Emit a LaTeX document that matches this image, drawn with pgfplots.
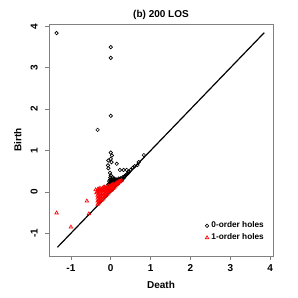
\documentclass[border=0pt]{standalone}
\usepackage{pgfplots}
\pgfplotsset{compat=1.18}
\usepackage{fontspec}
\setmainfont{Liberation Sans}
\definecolor{rred}{RGB}{255,0,0}
\begin{document}
\begin{tikzpicture}
\useasboundingbox (-36.75pt,-31.5pt) rectangle (186.75pt,192pt);
\begin{axis}[
  at={(0,0)}, anchor=south west,
  scale only axis, width=168pt, height=174pt,
  xmin=-1.55, xmax=4.07, ymin=-1.55, ymax=4.06,
  xtick={-1,0,1,2,3,4}, ytick={-1,0,1,2,3,4},
  xtick pos=bottom, ytick pos=left, tick align=outside,
  major tick length=3pt,
  axis line style={draw=black!50, line width=0.6pt},
  every tick/.style={draw=black!50, line width=0.6pt},
  /pgf/number format/assume math mode=true,
  tick label style={font=\bfseries\fontsize{7.5}{9}\selectfont},
  yticklabel style={rotate=90, anchor=south, xshift=0pt, yshift=2pt},
  label style={font=\bfseries\fontsize{7.5}{9}\selectfont},
  xlabel={Death}, ylabel={Birth},
  title={(b) 200 LOS},
  title style={font=\bfseries\fontsize{7.5}{9}\selectfont, yshift=-6.5pt},
  legend style={draw=none, fill=none, at={(0.978,0.043)}, anchor=south east,
    font=\bfseries\fontsize{6.2}{7}\selectfont, inner sep=1pt, row sep=-1pt,
    /tikz/every even column/.append style={column sep=3pt}},
  legend cell align=left,
  clip=false,
]
% 0-order holes
\addplot[only marks, mark=o, mark size=1.3pt, mark options={draw=black, line width=0.5pt}] coordinates {
(-1.36,3.84) (0.0,3.50) (0.0,3.24) (0.0,1.84) (-0.33,1.50)
(0.0,0.95) (0.03,0.88) (0.0,0.80) (-0.06,0.76) (0.02,0.72) (0.15,0.68)
(-0.07,0.64) (-0.06,0.57) (-0.02,0.46) (0.0,0.40)
(0.23,0.53) (0.32,0.53) (0.40,0.53) (0.45,0.49) (0.55,0.58) (0.67,0.65) (0.83,0.89)
(-0.05,0.05) (-0.03,0.10) (0.0,0.15) (0.02,0.20) (0.05,0.22) (0.08,0.24)
(0.10,0.27) (0.12,0.30) (0.15,0.30) (0.20,0.32) (0.25,0.33) (0.30,0.35)
(0.0,0.25) (-0.02,0.30) (0.03,0.30) (0.05,0.35) (0.08,0.32) (-0.04,0.20)
(0.35,0.38) (0.40,0.42) (0.45,0.47) (0.50,0.53) (0.60,0.62) (0.70,0.72)
(-0.08,0.12) (-0.06,0.18) (-0.01,0.35) (0.04,0.27) (0.10,0.20) (0.13,0.24)
(0.17,0.26) (0.22,0.28) (0.27,0.30) (0.06,0.16) (-0.02,0.08)
(-0.07,0.08) (-0.05,0.14) (-0.03,0.18) (-0.01,0.22) (0.01,0.18) (0.03,0.23)
(0.06,0.26) (0.09,0.29) (0.11,0.23) (0.14,0.27) (0.16,0.22) (0.19,0.29)
(0.21,0.25) (0.24,0.30) (0.26,0.27) (0.29,0.32) (0.32,0.33) (0.28,0.29)
(-0.04,0.26) (0.01,0.29) (0.07,0.20) (0.09,0.25) (0.12,0.27) (0.18,0.23)
(0.23,0.31) (0.34,0.36) (0.37,0.40) (0.42,0.44)
};
\addlegendentry{0-order holes}
% 1-order holes
\addplot[only marks, mark=triangle, mark size=1.5pt, mark options={draw=rred, line width=0.5pt}] coordinates {
(-1.36,-0.51) (-1.00,-0.85) (-0.60,-0.22) (-0.55,-0.53)
(-0.38,0.05) (-0.36,-0.02)
(-0.33,-0.30) (-0.33,-0.22) (-0.33,-0.15) (-0.33,-0.08) (-0.33,0.00) (-0.33,0.06)
(-0.30,-0.27) (-0.30,-0.20) (-0.30,-0.12) (-0.30,-0.05) (-0.30,0.02) (-0.30,0.07)
(-0.27,-0.24) (-0.27,-0.17) (-0.27,-0.10) (-0.27,-0.03) (-0.27,0.04) (-0.27,0.09)
(-0.24,-0.21) (-0.24,-0.14) (-0.24,-0.07) (-0.24,0.00) (-0.24,0.06)
(-0.21,-0.18) (-0.21,-0.11) (-0.21,-0.04) (-0.21,0.03) (-0.21,0.09)
(-0.18,-0.15) (-0.18,-0.08) (-0.18,-0.01) (-0.18,0.06) (-0.18,0.11)
(-0.15,-0.12) (-0.15,-0.05) (-0.15,0.02) (-0.15,0.08) (-0.15,0.12)
(-0.12,-0.09) (-0.12,-0.03) (-0.12,0.04) (-0.12,0.10)
(-0.09,-0.06) (-0.09,0.00) (-0.09,0.06) (-0.09,0.11)
(-0.06,-0.03) (-0.06,0.03) (-0.06,0.09) (-0.06,0.14)
(-0.03,0.00) (-0.03,0.06) (-0.03,0.12)
(0.00,0.03) (0.00,0.09) (0.00,0.15)
(0.03,0.05) (0.03,0.11) (0.03,0.17)
(0.06,0.08) (0.06,0.14) (0.06,0.19)
(0.09,0.11) (0.09,0.17)
(0.12,0.14) (0.12,0.20)
(0.15,0.17) (0.15,0.22)
(0.18,0.20) (0.18,0.24)
(0.21,0.23) (0.21,0.26)
(0.24,0.26) (0.27,0.28)
};
\addlegendentry{1-order holes}
\addplot[black, line width=0.9pt, forget plot] coordinates {(-1.34,-1.34) (3.85,3.85)};
\end{axis}
\end{tikzpicture}
\end{document}
